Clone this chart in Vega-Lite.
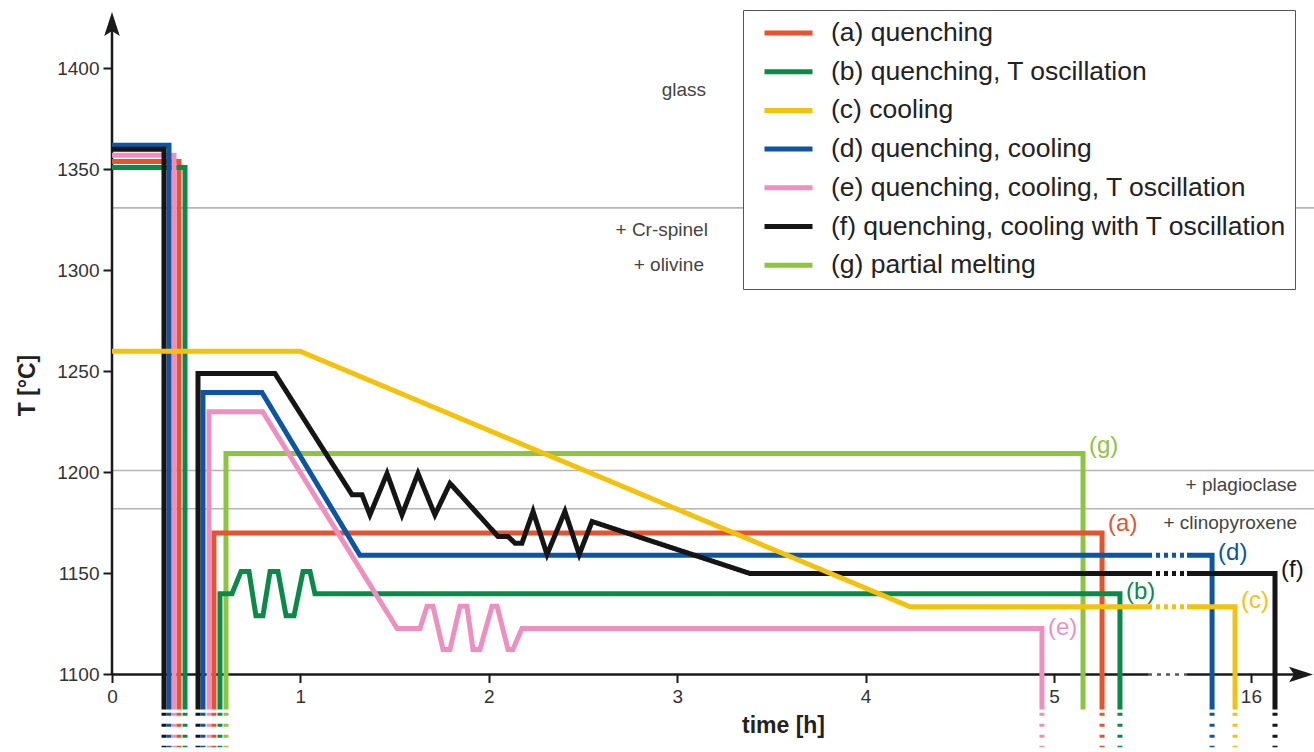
{
  "$schema": "https://vega.github.io/schema/vega-lite/v6.json",
  "width": 1202,
  "height": 752,
  "autosize": {"type": "none"},
  "padding": {"left": 112, "top": 0, "right": 0, "bottom": 0},
  "background": "white",
  "config": {
    "view": {"stroke": null},
    "font": "Liberation Sans",
    "axis": {"tickColor": "#1a1a1a", "tickWidth": 2, "labelFontSize": 19, "labelColor": "#333", "domain": false, "grid": false}
  },
  "datasets": {
    "phases": [{"T": 1331}, {"T": 1201}, {"T": 1182}],
    "notes": [
      {"txt": "glass", "t": 3.153, "T": 1389.4},
      {"txt": "+ Cr-spinel", "t": 3.163, "T": 1320},
      {"txt": "+ olivine", "t": 3.142, "T": 1302.7},
      {"txt": "+ plagioclase", "t": 6.29, "T": 1193.8},
      {"txt": "+ clinopyroxene", "t": 6.29, "T": 1175}
    ],
    "lines": [
      {"s": "g", "g": "g1", "i": 0, "t": 0.605, "T": 1082.7, "k": "s"},
      {"s": "g", "g": "g1", "i": 1, "t": 0.605, "T": 1209.4, "k": "s"},
      {"s": "g", "g": "g1", "i": 2, "t": 5.154, "T": 1209.4, "k": "s"},
      {"s": "g", "g": "g1", "i": 3, "t": 5.154, "T": 1082.7, "k": "s"},

      {"s": "a", "g": "a1", "i": 0, "t": 0, "T": 1354, "k": "s"},
      {"s": "a", "g": "a1", "i": 1, "t": 0.3556, "T": 1354, "k": "s"},
      {"s": "a", "g": "a1", "i": 2, "t": 0.3556, "T": 1082.7, "k": "s"},
      {"s": "a", "g": "a2", "i": 0, "t": 0.541, "T": 1082.7, "k": "s"},
      {"s": "a", "g": "a2", "i": 1, "t": 0.541, "T": 1170, "k": "s"},
      {"s": "a", "g": "a2", "i": 2, "t": 5.255, "T": 1170, "k": "s"},
      {"s": "a", "g": "a2", "i": 3, "t": 5.255, "T": 1082.7, "k": "s"},

      {"s": "b", "g": "b1", "i": 0, "t": 0, "T": 1351, "k": "s"},
      {"s": "b", "g": "b1", "i": 1, "t": 0.3875, "T": 1351, "k": "s"},
      {"s": "b", "g": "b1", "i": 2, "t": 0.3875, "T": 1082.7, "k": "s"},
      {"s": "b", "g": "b2", "i": 0, "t": 0.573, "T": 1082.7, "k": "s"},
      {"s": "b", "g": "b2", "i": 1, "t": 0.573, "T": 1140, "k": "s"},
      {"s": "b", "g": "b2", "i": 2, "t": 0.637, "T": 1140, "k": "s"},
      {"s": "b", "g": "b2", "i": 3, "t": 0.685, "T": 1151, "k": "s"},
      {"s": "b", "g": "b2", "i": 4, "t": 0.727, "T": 1151, "k": "s"},
      {"s": "b", "g": "b2", "i": 5, "t": 0.764, "T": 1129, "k": "s"},
      {"s": "b", "g": "b2", "i": 6, "t": 0.801, "T": 1129, "k": "s"},
      {"s": "b", "g": "b2", "i": 7, "t": 0.839, "T": 1151, "k": "s"},
      {"s": "b", "g": "b2", "i": 8, "t": 0.881, "T": 1151, "k": "s"},
      {"s": "b", "g": "b2", "i": 9, "t": 0.924, "T": 1129, "k": "s"},
      {"s": "b", "g": "b2", "i": 10, "t": 0.966, "T": 1129, "k": "s"},
      {"s": "b", "g": "b2", "i": 11, "t": 1.014, "T": 1151, "k": "s"},
      {"s": "b", "g": "b2", "i": 12, "t": 1.051, "T": 1151, "k": "s"},
      {"s": "b", "g": "b2", "i": 13, "t": 1.077, "T": 1140, "k": "s"},
      {"s": "b", "g": "b2", "i": 14, "t": 5.35, "T": 1140, "k": "s"},
      {"s": "b", "g": "b2", "i": 15, "t": 5.35, "T": 1082.7, "k": "s"},

      {"s": "e", "g": "e1", "i": 0, "t": 0, "T": 1357, "k": "s"},
      {"s": "e", "g": "e1", "i": 1, "t": 0.329, "T": 1357, "k": "s"},
      {"s": "e", "g": "e1", "i": 2, "t": 0.329, "T": 1082.7, "k": "s"},
      {"s": "e", "g": "e2", "i": 0, "t": 0.515, "T": 1082.7, "k": "s"},
      {"s": "e", "g": "e2", "i": 1, "t": 0.515, "T": 1230, "k": "s"},
      {"s": "e", "g": "e2", "i": 2, "t": 0.8, "T": 1230, "k": "s"},
      {"s": "e", "g": "e2", "i": 3, "t": 1.513, "T": 1122.8, "k": "s"},
      {"s": "e", "g": "e2", "i": 4, "t": 1.635, "T": 1122.8, "k": "s"},
      {"s": "e", "g": "e2", "i": 5, "t": 1.672, "T": 1133.7, "k": "s"},
      {"s": "e", "g": "e2", "i": 6, "t": 1.704, "T": 1133.7, "k": "s"},
      {"s": "e", "g": "e2", "i": 7, "t": 1.757, "T": 1112.4, "k": "s"},
      {"s": "e", "g": "e2", "i": 8, "t": 1.794, "T": 1112.4, "k": "s"},
      {"s": "e", "g": "e2", "i": 9, "t": 1.847, "T": 1133.7, "k": "s"},
      {"s": "e", "g": "e2", "i": 10, "t": 1.884, "T": 1133.7, "k": "s"},
      {"s": "e", "g": "e2", "i": 11, "t": 1.916, "T": 1112.4, "k": "s"},
      {"s": "e", "g": "e2", "i": 12, "t": 1.953, "T": 1112.4, "k": "s"},
      {"s": "e", "g": "e2", "i": 13, "t": 2.017, "T": 1133.7, "k": "s"},
      {"s": "e", "g": "e2", "i": 14, "t": 2.044, "T": 1133.7, "k": "s"},
      {"s": "e", "g": "e2", "i": 15, "t": 2.102, "T": 1112.4, "k": "s"},
      {"s": "e", "g": "e2", "i": 16, "t": 2.128, "T": 1112.4, "k": "s"},
      {"s": "e", "g": "e2", "i": 17, "t": 2.176, "T": 1122.8, "k": "s"},
      {"s": "e", "g": "e2", "i": 18, "t": 4.936, "T": 1122.8, "k": "s"},
      {"s": "e", "g": "e2", "i": 19, "t": 4.936, "T": 1082.7, "k": "s"},

      {"s": "d", "g": "d1", "i": 0, "t": 0, "T": 1362, "k": "s"},
      {"s": "d", "g": "d1", "i": 1, "t": 0.3025, "T": 1362, "k": "s"},
      {"s": "d", "g": "d1", "i": 2, "t": 0.3025, "T": 1082.7, "k": "s"},
      {"s": "d", "g": "d2", "i": 0, "t": 0.483, "T": 1082.7, "k": "s"},
      {"s": "d", "g": "d2", "i": 1, "t": 0.483, "T": 1239.6, "k": "s"},
      {"s": "d", "g": "d2", "i": 2, "t": 0.796, "T": 1239.6, "k": "s"},
      {"s": "d", "g": "d2", "i": 3, "t": 1.316, "T": 1159, "k": "s"},
      {"s": "d", "g": "d2", "i": 4, "t": 5.499, "T": 1159, "k": "s"},
      {"s": "d", "g": "d3", "i": 0, "t": 5.499, "T": 1159, "k": "d"},
      {"s": "d", "g": "d3", "i": 1, "t": 5.706, "T": 1159, "k": "d"},
      {"s": "d", "g": "d4", "i": 0, "t": 5.706, "T": 1159, "k": "s"},
      {"s": "d", "g": "d4", "i": 1, "t": 5.839, "T": 1159, "k": "s"},
      {"s": "d", "g": "d4", "i": 2, "t": 5.839, "T": 1082.7, "k": "s"},

      {"s": "f", "g": "f1", "i": 0, "t": 0, "T": 1360, "k": "s"},
      {"s": "f", "g": "f1", "i": 1, "t": 0.276, "T": 1360, "k": "s"},
      {"s": "f", "g": "f1", "i": 2, "t": 0.276, "T": 1082.7, "k": "s"},
      {"s": "f", "g": "f2", "i": 0, "t": 0.4565, "T": 1082.7, "k": "s"},
      {"s": "f", "g": "f2", "i": 1, "t": 0.4565, "T": 1249, "k": "s"},
      {"s": "f", "g": "f2", "i": 2, "t": 0.865, "T": 1249, "k": "s"},
      {"s": "f", "g": "f2", "i": 3, "t": 1.274, "T": 1189, "k": "s"},
      {"s": "f", "g": "f2", "i": 4, "t": 1.327, "T": 1189, "k": "s"},
      {"s": "f", "g": "f2", "i": 5, "t": 1.369, "T": 1179, "k": "s"},
      {"s": "f", "g": "f2", "i": 6, "t": 1.46, "T": 1199.5, "k": "s"},
      {"s": "f", "g": "f2", "i": 7, "t": 1.539, "T": 1179, "k": "s"},
      {"s": "f", "g": "f2", "i": 8, "t": 1.624, "T": 1199.5, "k": "s"},
      {"s": "f", "g": "f2", "i": 9, "t": 1.714, "T": 1179, "k": "s"},
      {"s": "f", "g": "f2", "i": 10, "t": 1.794, "T": 1194.6, "k": "s"},
      {"s": "f", "g": "f2", "i": 11, "t": 2.049, "T": 1168.3, "k": "s"},
      {"s": "f", "g": "f2", "i": 12, "t": 2.102, "T": 1168.3, "k": "s"},
      {"s": "f", "g": "f2", "i": 13, "t": 2.139, "T": 1165, "k": "s"},
      {"s": "f", "g": "f2", "i": 14, "t": 2.176, "T": 1165, "k": "s"},
      {"s": "f", "g": "f2", "i": 15, "t": 2.235, "T": 1180.7, "k": "s"},
      {"s": "f", "g": "f2", "i": 16, "t": 2.309, "T": 1159.4, "k": "s"},
      {"s": "f", "g": "f2", "i": 17, "t": 2.404, "T": 1180.7, "k": "s"},
      {"s": "f", "g": "f2", "i": 18, "t": 2.48, "T": 1159.4, "k": "s"},
      {"s": "f", "g": "f2", "i": 19, "t": 2.548, "T": 1175.7, "k": "s"},
      {"s": "f", "g": "f2", "i": 20, "t": 3.386, "T": 1150, "k": "s"},
      {"s": "f", "g": "f2", "i": 21, "t": 5.499, "T": 1150, "k": "s"},
      {"s": "f", "g": "f3", "i": 0, "t": 5.499, "T": 1150, "k": "d"},
      {"s": "f", "g": "f3", "i": 1, "t": 5.706, "T": 1150, "k": "d"},
      {"s": "f", "g": "f4", "i": 0, "t": 5.706, "T": 1150, "k": "s"},
      {"s": "f", "g": "f4", "i": 1, "t": 6.173, "T": 1150, "k": "s"},
      {"s": "f", "g": "f4", "i": 2, "t": 6.173, "T": 1082.7, "k": "s"},

      {"s": "c", "g": "c1", "i": 0, "t": 0, "T": 1260, "k": "s"},
      {"s": "c", "g": "c1", "i": 1, "t": 0.998, "T": 1260, "k": "s"},
      {"s": "c", "g": "c1", "i": 2, "t": 4.236, "T": 1133.5, "k": "s"},
      {"s": "c", "g": "c1", "i": 3, "t": 5.499, "T": 1133.5, "k": "s"},
      {"s": "c", "g": "c2", "i": 0, "t": 5.499, "T": 1133.5, "k": "d"},
      {"s": "c", "g": "c2", "i": 1, "t": 5.706, "T": 1133.5, "k": "d"},
      {"s": "c", "g": "c3", "i": 0, "t": 5.706, "T": 1133.5, "k": "s"},
      {"s": "c", "g": "c3", "i": 1, "t": 5.961, "T": 1133.5, "k": "s"},
      {"s": "c", "g": "c3", "i": 2, "t": 5.961, "T": 1082.7, "k": "s"}
    ],
    "stubs": [
      {"s": "f", "t": 0.276}, {"s": "d", "t": 0.3025}, {"s": "e", "t": 0.329}, {"s": "a", "t": 0.3556}, {"s": "b", "t": 0.3875},
      {"s": "f", "t": 0.4565}, {"s": "d", "t": 0.483}, {"s": "e", "t": 0.515}, {"s": "a", "t": 0.541}, {"s": "b", "t": 0.573}, {"s": "g", "t": 0.605},
      {"s": "e", "t": 4.936}, {"s": "a", "t": 5.255}, {"s": "b", "t": 5.35}, {"s": "d", "t": 5.839}, {"s": "c", "t": 5.961}, {"s": "f", "t": 6.173}
    ],
    "labs": [
      {"s": "a", "lab": "(a)", "t": 5.255, "T": 1174.5},
      {"s": "b", "lab": "(b)", "t": 5.35, "T": 1141},
      {"s": "c", "lab": "(c)", "t": 5.961, "T": 1136.5},
      {"s": "d", "lab": "(d)", "t": 5.839, "T": 1160},
      {"s": "e", "lab": "(e)", "t": 4.936, "T": 1123},
      {"s": "f", "lab": "(f)", "t": 6.173, "T": 1151.5},
      {"s": "g", "lab": "(g)", "t": 5.154, "T": 1213}
    ]
  },
  "layer": [
    {
      "data": {"name": "phases"},
      "mark": {"type": "rule", "stroke": "#b5b5b5", "strokeWidth": 1.6},
      "encoding": {
        "x": {"datum": 0},
        "x2": {"datum": 6.38},
        "y": {"field": "T", "type": "quantitative"}
      }
    },
    {
      "data": {"name": "notes"},
      "mark": {"type": "text", "align": "right", "baseline": "middle", "fontSize": 19, "color": "#444"},
      "encoding": {
        "x": {"field": "t", "type": "quantitative"},
        "y": {"field": "T", "type": "quantitative"},
        "text": {"field": "txt"}
      }
    },
    {
      "data": {"values": [{}]},
      "mark": {"type": "rule", "color": "#1a1a1a", "strokeWidth": 2.5},
      "encoding": {"x": {"datum": 0}, "y": {"datum": 1100}, "y2": {"datum": 1424}}
    },
    {
      "data": {"values": [{}]},
      "mark": {"type": "rule", "color": "#1a1a1a", "strokeWidth": 2.5},
      "encoding": {"x": {"datum": 0}, "x2": {"datum": 5.499}, "y": {"datum": 1100}}
    },
    {
      "data": {"values": [{}]},
      "mark": {"type": "rule", "color": "#555", "strokeWidth": 2.5, "strokeDash": [4, 5]},
      "encoding": {"x": {"datum": 5.499}, "x2": {"datum": 5.706}, "y": {"datum": 1100}}
    },
    {
      "data": {"values": [{}]},
      "mark": {"type": "rule", "color": "#1a1a1a", "strokeWidth": 2.5},
      "encoding": {"x": {"datum": 5.706}, "x2": {"datum": 6.33}, "y": {"datum": 1100}}
    },
    {
      "data": {"name": "lines"},
      "mark": {"type": "line", "strokeWidth": 5, "strokeJoin": "miter", "strokeCap": "butt"},
      "encoding": {
        "x": {
          "field": "t", "type": "quantitative",
          "scale": {"domain": [0, 6.38], "nice": false, "zero": false},
          "axis": {
            "values": [0, 1, 2, 3, 4, 5, 6.045],
            "format": "d",
            "labelExpr": "datum.value > 5.5 ? '16' : datum.label",
            "domain": false, "grid": false, "offset": -77.5,
            "tickSize": 8, "tickWidth": 2, "tickColor": "#1a1a1a",
            "labelFontSize": 19, "labelColor": "#333", "labelPadding": 5, "labelFlush": false,
            "title": "time [h]", "titleFontSize": 23, "titleFontWeight": "bold", "titleColor": "#222",
            "titleX": 671, "titleY": 40
          }
        },
        "y": {
          "field": "T", "type": "quantitative",
          "scale": {"domain": [1061.6, 1433.9], "nice": false, "zero": false},
          "axis": {
            "values": [1100, 1150, 1200, 1250, 1300, 1350, 1400],
            "format": "d",
            "domain": false, "grid": false,
            "tickSize": 9, "tickWidth": 2, "tickColor": "#1a1a1a",
            "labelFontSize": 19, "labelColor": "#333", "labelPadding": 4,
            "title": "T [°C]", "titleFontSize": 23, "titleFontWeight": "bold", "titleColor": "#222",
            "titleX": -85, "titleY": 385, "titleAngle": -90, "titleAlign": "center", "titleBaseline": "middle"
          }
        },
        "color": {
          "field": "s", "type": "nominal", "title": null,
          "scale": {"domain": ["a", "b", "c", "d", "e", "f", "g"], "range": ["#e8532f", "#0a8a48", "#f4c20d", "#0b55a3", "#ee8fbf", "#151515", "#8cc540"]},
          "legend": {
            "orient": "none", "legendX": 631, "legendY": 10,
            "symbolType": "stroke", "symbolSize": 2304, "symbolStrokeWidth": 5, "symbolOffset": 11,
            "clipHeight": 30,
            "labelFontSize": 26.5, "labelColor": "#222", "labelLimit": 800, "labelOffset": 16,
            "rowPadding": 8.7, "padding": 8,
            "fillColor": "white", "strokeColor": "#555",
            "labelExpr": "datum.label == 'a' ? '(a) quenching' : datum.label == 'b' ? '(b) quenching, T oscillation' : datum.label == 'c' ? '(c) cooling' : datum.label == 'd' ? '(d) quenching, cooling' : datum.label == 'e' ? '(e) quenching, cooling, T oscillation' : datum.label == 'f' ? '(f) quenching, cooling with T oscillation' : '(g) partial melting'"
          }
        },
        "detail": {"field": "g"},
        "order": {"field": "i", "type": "quantitative"},
        "strokeDash": {"field": "k", "type": "nominal", "scale": {"domain": ["s", "d"], "range": [[1, 0], [4, 4]]}, "legend": null}
      }
    },
    {
      "data": {"name": "stubs"},
      "mark": {"type": "rule", "strokeWidth": 5, "strokeDash": [3, 8]},
      "encoding": {
        "x": {"field": "t", "type": "quantitative"},
        "y": {"datum": 1081},
        "y2": {"datum": 1064},
        "color": {"field": "s", "type": "nominal", "title": null, "legend": null}
      }
    },
    {
      "data": {"name": "labs"},
      "mark": {"type": "text", "align": "left", "baseline": "middle", "fontSize": 24, "dx": 6},
      "encoding": {
        "x": {"field": "t", "type": "quantitative"},
        "y": {"field": "T", "type": "quantitative"},
        "text": {"field": "lab"},
        "color": {"field": "s", "type": "nominal", "title": null, "legend": null}
      }
    },
    {
      "data": {"values": [{}]},
      "mark": {"type": "point", "shape": "M0,-1L0.55,0.7L0,0.35L-0.55,0.7Z", "filled": true, "size": 800, "color": "#1a1a1a", "opacity": 1, "strokeWidth": 0},
      "encoding": {"x": {"datum": 0}, "y": {"datum": 1421}}
    },
    {
      "data": {"values": [{}]},
      "mark": {"type": "point", "shape": "M1,0L-0.7,0.55L-0.35,0L-0.7,-0.55Z", "filled": true, "size": 800, "color": "#1a1a1a", "opacity": 1, "strokeWidth": 0},
      "encoding": {"x": {"datum": 6.3}, "y": {"datum": 1100}}
    }
  ]
}
